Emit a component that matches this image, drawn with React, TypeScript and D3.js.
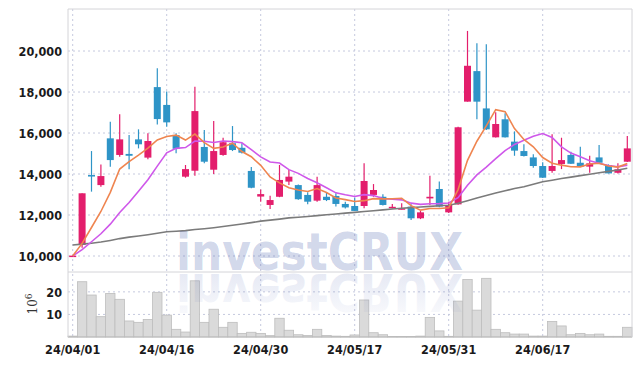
import * as d3 from 'd3';

// trading days, 2024-04-01 .. 2024-06-28
const dates = [
  '24/04/01', '24/04/02', '24/04/03', '24/04/04', '24/04/05', '24/04/08', '24/04/09', '24/04/11', '24/04/12', '24/04/15',
  '24/04/16', '24/04/17', '24/04/18', '24/04/19', '24/04/22', '24/04/23', '24/04/24', '24/04/25', '24/04/26', '24/04/29',
  '24/04/30', '24/05/02', '24/05/03', '24/05/07', '24/05/08', '24/05/09', '24/05/10', '24/05/13', '24/05/14', '24/05/16',
  '24/05/17', '24/05/20', '24/05/21', '24/05/22', '24/05/23', '24/05/24', '24/05/27', '24/05/28', '24/05/29', '24/05/30',
  '24/05/31', '24/06/03', '24/06/04', '24/06/05', '24/06/07', '24/06/10', '24/06/11', '24/06/12', '24/06/13', '24/06/14',
  '24/06/17', '24/06/18', '24/06/19', '24/06/20', '24/06/21', '24/06/24', '24/06/25', '24/06/26', '24/06/27', '24/06/28',
];

const opens = [
  9960, 10540, 13950, 13460, 15740, 14930, 14980, 15690, 14800, 18240,
  17370, 15900, 13870, 14160, 15320, 14210, 14930, 15500, 15280, 14150,
  12900, 12490, 12890, 13630, 13460, 12980, 12700, 12890, 12930, 12540,
  12440, 12440, 12980, 12890, 12330, 12280, 12410, 11840, 12810, 13270,
  12130, 12520, 17530, 19020, 17200, 15790, 16670, 15580, 15120, 14810,
  14390, 14150, 14490, 14930, 14550, 14360, 14810, 14440, 14060, 14600,
];
const highs = [
  10050, 13060, 15120, 14470, 16550, 16910, 15900, 16180, 15990, 19160,
  18020, 15990, 14440, 18260, 16150, 16590, 15770, 16340, 15500, 14340,
  13250, 12940, 14440, 14200, 13490, 13110, 13870, 13090, 13060, 12650,
  12850, 14520, 13510, 13010, 12540, 12570, 12520, 12200, 13920, 13630,
  12650, 16300, 20980, 20380, 20330, 17010, 16960, 16080, 15450, 14960,
  14570, 15940, 15770, 15090, 15330, 14890, 15410, 14470, 14520, 15850,
];
const lows = [
  9950, 10400, 13140, 13380, 14360, 14840, 14230, 15250, 14720, 16420,
  16310, 15010, 13820, 13920, 14520, 14000, 14890, 15120, 15000, 13300,
  12650, 12290, 12870, 13460, 12740, 12520, 12650, 12680, 12410, 12320,
  12190, 12330, 12890, 12460, 12320, 12270, 11760, 11800, 12490, 12380,
  12100, 12500, 17530, 16670, 16150, 15780, 15780, 14890, 14860, 14310,
  13800, 14060, 14240, 14490, 14340, 14060, 14530, 14030, 14030, 14590,
];
const closes = [
  10020, 13060, 13880, 13900, 14680, 15690, 14890, 15450, 15610, 16680,
  16520, 15230, 14240, 17070, 14600, 15120, 15550, 15170, 15040, 13330,
  13020, 12730, 13710, 13870, 12770, 12650, 13460, 12730, 12540, 12370,
  12200, 13660, 13220, 12490, 12400, 12330, 11840, 12130, 12890, 12410,
  12490, 16280, 19280, 17530, 16180, 16440, 15790, 15140, 14880, 14390,
  13820, 14390, 14680, 14500, 14360, 14520, 14550, 14030, 14230, 15250,
];

// volume, millions of shares
const volumes = [
  0.4, 24.5, 18.6, 9.0, 19.3, 16.7, 7.1, 6.5, 7.8, 19.8,
  9.7, 3.4, 2.2, 24.9, 6.5, 12.3, 4.3, 6.5, 1.6, 2.1,
  1.6, 0.6, 8.3, 3.0, 1.0, 0.7, 3.4, 0.7, 0.4, 0.3,
  0.9, 16.4, 1.9, 1.0, 0.2, 0.2, 0.2, 0.4, 8.7, 2.7,
  0.3, 15.9, 25.5, 11.9, 26.0, 3.4, 1.9, 1.3, 1.3, 0.4,
  0.4, 6.9, 4.9, 1.0, 1.6, 1.0, 1.3, 0.3, 0.3, 4.3,
];

// moving averages
const ma5 = [
  10004, 10616, 11392, 12172, 13108, 14242, 14608, 14922, 15264, 15664,
  15830, 15898, 15656, 15948, 15532, 15252, 15316, 15502, 15096, 14842,
  14422, 13858, 13566, 13332, 13220, 13146, 13292, 13096, 12830, 12750,
  12660, 12700, 12798, 12788, 12794, 12820, 12456, 12238, 12318, 12320,
  12352, 13240, 14670, 15598, 16352, 17142, 17044, 16216, 15686, 15328,
  14804, 14524, 14432, 14356, 14350, 14490, 14522, 14392, 14338, 14516,
];
const ma10 = [
  10002, 10308, 10696, 11086, 11554, 12123, 12612, 13157, 13718, 14386,
  15036, 15253, 15289, 15606, 15598, 15541, 15607, 15579, 15522, 15187,
  14837, 14587, 14534, 14214, 14031, 13784, 13575, 13331, 13081, 12985,
  12903, 12996, 12947, 12809, 12772, 12740, 12578, 12518, 12553, 12557,
  12586, 12848, 13454, 13958, 14336, 14747, 15142, 15443, 15642, 15840,
  15973, 15784, 15324, 15021, 14839, 14647, 14523, 14412, 14347, 14433,
];
const maLong = [
  10540, 10580, 10620, 10680, 10760, 10850, 10920, 10980, 11040, 11110,
  11180, 11210, 11240, 11290, 11330, 11380, 11440, 11500, 11560, 11630,
  11700, 11750, 11800, 11860, 11890, 11930, 11970, 12010, 12050, 12090,
  12130, 12170, 12210, 12250, 12290, 12330, 12360, 12390, 12420, 12450,
  12480, 12570, 12700, 12830, 12950, 13070, 13180, 13290, 13380, 13500,
  13620, 13700, 13780, 13850, 13920, 13990, 14060, 14130, 14200, 14280,
];

const priceTicks = [10000, 12000, 14000, 16000, 18000, 20000];
const volTicks = [10, 20];
const dateTicks = ['24/04/01', '24/04/16', '24/04/30', '24/05/17', '24/05/31', '24/06/17'];

const UP = '#e31e6c';
const DOWN = '#2e94c7';
const GRID = '#c5c9de';
const FRAME = '#d4d4d8';
const LABEL_FONT = '"DejaVu Sans Condensed", "DejaVu Sans", sans-serif';
const WM_FONT = '"DejaVu Sans", sans-serif';

const left = 68;
const right = 632;
const top = 9;
const split = 272;
const bottom = 337;

export default function App() {
  const x = d3.scaleBand<string>().domain(dates).range([left, right]).padding(0);
  const yP = d3.scaleLinear().domain([9220, 22050]).range([split, top]);
  const yV = d3.scaleLinear().domain([0, 28.8]).range([bottom, split]);
  const bw = x.bandwidth();
  const cx = (i: number) => (x(dates[i]) as number) + bw / 2;
  const bodyW = 7;

  const line = (vals: number[]) =>
    d3
      .line<number>()
      .x((_d, i) => cx(i))
      .y((d) => yP(d))(vals) as string;

  const wmX = 176;
  const wmBase = 270;

  return (
    <svg
      width={642}
      height={366}
      style={{ position: 'absolute', left: 0, top: 0, background: '#fff' }}
    >
      <defs>
        <linearGradient id="refl" x1="0" y1="0" x2="0" y2="1">
          <stop offset="0" stopColor="#3a52a8" stopOpacity={0.02} />
          <stop offset="1" stopColor="#3a52a8" stopOpacity={0.15} />
        </linearGradient>
      </defs>

      {/* grid */}
      {priceTicks.map((t) => (
        <line key={'pg' + t} x1={left} x2={right} y1={yP(t)} y2={yP(t)} stroke={GRID} strokeDasharray="2,3" />
      ))}
      {volTicks.map((t) => (
        <line key={'vg' + t} x1={left} x2={right} y1={yV(t)} y2={yV(t)} stroke={GRID} strokeDasharray="2,3" />
      ))}
      {dateTicks.map((d) => {
        const xx = (x(d) as number) + bw / 2;
        return <line key={'dg' + d} x1={xx} x2={xx} y1={top} y2={bottom} stroke={GRID} strokeDasharray="2,3" />;
      })}

      {/* volume */}
      {volumes.map((v, i) => (
        <rect
          key={'v' + i}
          x={x(dates[i]) as number}
          y={yV(v)}
          width={bw}
          height={bottom - yV(v)}
          fill="#dadada"
          stroke="#bdbdbd"
          strokeWidth={0.8}
        />
      ))}

      {/* frame */}
      <line x1={left} x2={right} y1={top} y2={top} stroke={FRAME} />
      <line x1={left} x2={right} y1={split} y2={split} stroke={FRAME} />
      <line x1={left} x2={right} y1={bottom} y2={bottom} stroke="#bbbbbb" />
      <line x1={left} x2={left} y1={top} y2={bottom} stroke={FRAME} />
      <line x1={right} x2={right} y1={top} y2={bottom} stroke={FRAME} />

      {/* candles */}
      {closes.map((c, i) => {
        const o = opens[i];
        const col = c >= o ? UP : DOWN;
        const y1 = yP(Math.max(o, c));
        const y2 = yP(Math.min(o, c));
        return (
          <g key={'c' + i}>
            <line x1={cx(i)} x2={cx(i)} y1={yP(highs[i])} y2={yP(lows[i])} stroke={col} strokeWidth={1.2} />
            <rect x={cx(i) - bodyW / 2} y={y1} width={bodyW} height={Math.max(1.5, y2 - y1)} fill={col} />
          </g>
        );
      })}

      {/* moving averages */}
      <path d={line(maLong)} fill="none" stroke="#7b7b7b" strokeWidth={1.6} />
      <path d={line(ma10)} fill="none" stroke="#cf58ea" strokeWidth={1.6} />
      <path d={line(ma5)} fill="none" stroke="#ef8550" strokeWidth={1.6} />

      {/* watermark */}
      <text
        x={wmX}
        y={wmBase}
        fontFamily={WM_FONT}
        fontWeight="bold"
        fontSize={52}
        textLength={287}
        lengthAdjust="spacingAndGlyphs"
        fill="#3a52a8"
        fillOpacity={0.24}
      >
        investCRUX
      </text>
      <text
        x={wmX}
        y={wmBase}
        transform={`translate(0, ${2 * (wmBase + 2)}) scale(1, -1)`}
        fontFamily={WM_FONT}
        fontWeight="bold"
        fontSize={52}
        textLength={287}
        lengthAdjust="spacingAndGlyphs"
        fill="url(#refl)"
      >
        investCRUX
      </text>

      {/* axis labels */}
      {priceTicks.map((t) => (
        <text key={'pl' + t} x={62} y={yP(t) + 5} textAnchor="end" fontFamily={LABEL_FONT} fontWeight="bold" fontSize={12.5} fill="#1a1a1a">
          {d3.format(',')(t)}
        </text>
      ))}
      {volTicks.map((t) => (
        <text key={'vl' + t} x={62} y={yV(t) + 5} textAnchor="end" fontFamily={LABEL_FONT} fontWeight="bold" fontSize={12.5} fill="#1a1a1a">
          {t}
        </text>
      ))}
      <text
        transform="translate(37, 304) rotate(-90)"
        textAnchor="middle"
        fontFamily='"DejaVu Serif", serif'
        fontSize={12}
        fill="#333"
      >
        10
        <tspan dy={-5} fontSize={9}>6</tspan>
      </text>
      {dateTicks.map((d) => (
        <text
          key={'dl' + d}
          x={(x(d) as number) + bw / 2}
          y={354}
          textAnchor="middle"
          fontFamily={LABEL_FONT}
          fontWeight="bold"
          fontSize={12.5}
          fill="#1a1a1a"
        >
          {d}
        </text>
      ))}
    </svg>
  );
}
